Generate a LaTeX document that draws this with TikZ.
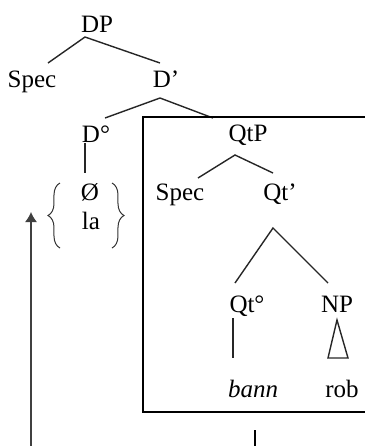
\documentclass[tikz,border=0pt]{standalone}
\usepackage{fontspec}
\setmainfont{Liberation Serif}
\usetikzlibrary{decorations.pathreplacing,arrows.meta}
\begin{document}
\begin{tikzpicture}[x=0.5pt,y=-0.5pt,
  lab/.style={anchor=base,inner sep=0pt,font=\fontsize{12.5}{15}\selectfont},
  edge/.style={line width=0.7pt,draw=black!85},
  bracestyle/.style={line width=0.5pt,draw=black!80,decorate,decoration={brace,amplitude=6pt}}]
\useasboundingbox (0,0) rectangle (365,446);
\clip (0,0) rectangle (365,446);
% labels
\node[lab] (dp) at (97,32) {DP};
\node[lab] (spec1) at (32,87) {Spec};
\node[lab] (dbar) at (166,87) {D’};
\node[lab] (dzero) at (96,142) {D°};
\node[lab] (qtp) at (248,141) {QtP};
\node[lab] (null) at (90,200) {Ø};
\node[lab] (la) at (91,229) {la};
\node[lab] (spec2) at (180,200) {Spec};
\node[lab] (qtbar) at (280,200) {Qt’};
\node[lab] (qtzero) at (247,312) {Qt°};
\node[lab] (np) at (337,312) {NP};
\node[lab,font=\fontsize{12.5}{15}\selectfont\itshape] (bann) at (253,397) {bann};
\node[lab] (rob) at (342,397) {rob};
% connector endpoints
\coordinate (a1) at (85,37);
\coordinate (s1t) at (48,63);
\coordinate (d1t) at (160,63);
\coordinate (a2) at (160,98);
\coordinate (d0t) at (105,118);
\coordinate (qpt) at (213,118);
\coordinate (d0b) at (85,143);
\coordinate (nullt) at (85,173);
\coordinate (a3) at (235,155);
\coordinate (s2t) at (198,178);
\coordinate (qbt) at (273,173);
\coordinate (a4) at (273,228);
\coordinate (q0t) at (235,283);
\coordinate (npt) at (328,283);
\coordinate (q0b) at (233,318);
\coordinate (bannt) at (233,358);
\coordinate (tri) at (337,320);
\coordinate (tril) at (328,358);
\coordinate (trir) at (348,358);
\coordinate (boxtl) at (143,117);
\coordinate (boxbr) at (380,412);
\coordinate (arrowstart) at (31,460);
\coordinate (arrowend) at (31,212);
\coordinate (lowtop) at (255,430);
\coordinate (lowbot) at (255,460);
% tree lines
\draw[edge] (s1t) -- (a1) -- (d1t);
\draw[edge] (d0t) -- (a2) -- (qpt);
\draw[edge] (d0b) -- (nullt);
\draw[edge] (s2t) -- (a3) -- (qbt);
\draw[edge] (q0t) -- (a4) -- (npt);
\draw[edge] (q0b) -- (bannt);
\draw[edge] (tri) -- (tril) -- (trir) -- cycle;
% box
\draw[line width=0.8pt] (boxtl) rectangle (boxbr);
% braces
\draw[bracestyle] (60,248) -- (60,183);
\draw[bracestyle] (112,183) -- (112,248);
% arrow and lower line
\draw[line width=0.6pt,draw=black!75,-{Latex[length=5pt,width=6pt]}] (arrowstart) -- (arrowend);
\draw[line width=0.7pt] (lowtop) -- (lowbot);
\end{tikzpicture}
\end{document}
